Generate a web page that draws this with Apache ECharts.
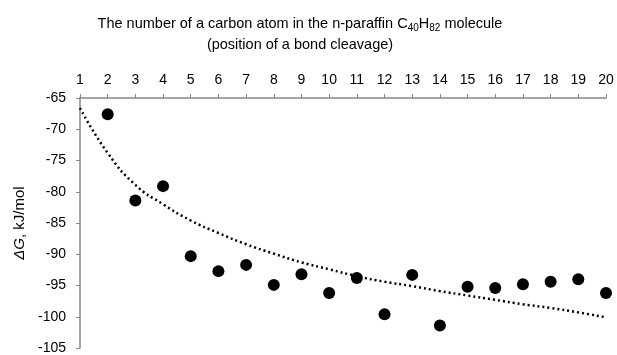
<!DOCTYPE html>
<html>
<head>
<meta charset="utf-8">
<script src="https://cdn.jsdelivr.net/npm/echarts@6/dist/echarts.min.js"></script>
<style>
  html, body { margin: 0; padding: 0; background: #fff; }
  #chart { width: 617px; height: 355px; }
</style>
</head>
<body>
<div id="chart"></div>
<script>
// carbon atom number (bond cleavage position)
const atoms = ['1','2','3','4','5','6','7','8','9','10','11','12','13','14','15','16','17','18','19','20'];
// dG values, kJ/mol (no point at atom 1)
const dG = [null, -67.6, -81.4, -79.1, -90.3, -92.7, -91.7, -94.9, -93.2, -96.2,
            -93.8, -99.6, -93.3, -101.4, -95.2, -95.4, -94.8, -94.4, -94.0, -96.2];
// dotted trend line at each atom
const trend = [-66.6, -73.8, -78.9, -82.0, -84.6, -86.6, -88.4, -89.9, -91.3, -92.4,
               -93.5, -94.4, -95.1, -95.9, -96.6, -97.3, -98.0, -98.6, -99.3, -100.1];
const yTicks = { min: -105, max: -65, step: 5 };

const FONT = 'Liberation Sans';

const chart = echarts.init(document.getElementById('chart'));
chart.setOption({
    backgroundColor: '#fff',
    animation: false,
    title: {
        left: 295,
        top: 8,
        textAlign: 'center',
        text: '{a|The number of a carbon atom in the n-paraffin C}{s|40}{a|H}{s|82}{a| molecule}\n{a|(position of a bond cleavage)}',
        textStyle: {
            fontWeight: 'normal',
            rich: {
                a: { fontFamily: FONT, fontSize: 14.5, fontWeight: 'normal', color: '#000', lineHeight: 21 },
                s: { fontFamily: FONT, fontSize: 10, fontWeight: 'normal', color: '#000', lineHeight: 21, padding: [9, 0, 0, 0] }
            }
        }
    },
    grid: { left: 80, right: 11, top: 98, bottom: 4 },
    xAxis: {
        type: 'category',
        position: 'top',
        data: atoms,
        boundaryGap: false,
        axisLine: { lineStyle: { color: '#888', width: 1.5 } },
        axisTick: { show: true, inside: false, length: 4, lineStyle: { color: '#888' } },
        axisLabel: { color: '#000', fontFamily: FONT, fontSize: 14, margin: 11 },
        splitLine: { show: false }
    },
    yAxis: {
        type: 'value',
        min: yTicks.min,
        max: yTicks.max,
        interval: yTicks.step,
        name: '{a|ΔG}{b|, kJ/mol}',
        nameLocation: 'middle',
        nameGap: 53,
        nameRotate: 90,
        nameTextStyle: {
            rich: {
                a: { fontFamily: FONT, fontSize: 15, color: '#000', fontStyle: 'italic' },
                b: { fontFamily: FONT, fontSize: 15, color: '#000' }
            }
        },
        axisLine: { show: true, lineStyle: { color: '#888', width: 1.5 } },
        axisTick: { show: true, length: 4, lineStyle: { color: '#888' } },
        axisLabel: { color: '#000', fontFamily: FONT, fontSize: 14, margin: 14 },
        splitLine: { show: false }
    },
    series: [
        {
            type: 'line',
            data: trend,
            smooth: true,
            symbol: 'none',
            lineStyle: { color: '#000', width: 2.5, type: [2, 3] },
            z: 1
        },
        {
            type: 'scatter',
            data: dG,
            symbol: 'circle',
            symbolSize: 12,
            itemStyle: { color: '#000', opacity: 1 },
            z: 2
        }
    ]
});
</script>
</body>
</html>
